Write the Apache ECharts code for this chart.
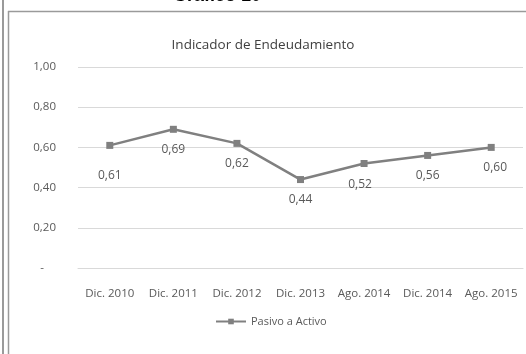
<!DOCTYPE html>
<html>
<head>
<meta charset="utf-8">
<script src="https://cdn.jsdelivr.net/npm/echarts@6/dist/echarts.min.js"></script>
<style>
  html, body { margin: 0; padding: 0; background: #fff; }
  #chart { width: 526px; height: 354px; }
</style>
</head>
<body>
<div id="chart"></div>
<script>
const categories = ['Dic. 2010', 'Dic. 2011', 'Dic. 2012', 'Dic. 2013', 'Ago. 2014', 'Dic. 2014', 'Ago. 2015']
const pasivoActivo = [0.61, 0.69, 0.62, 0.44, 0.52, 0.56, 0.60]
const yTicks = [0, 0.2, 0.4, 0.6, 0.8, 1.0]

// Excel nudges a few labels, keep those tweaks apart from the values
const labelOffsets = [[0, 10], [0, 0], [0, 0], [0, 0], [-4, 1], [0, 0], [4, 0]]

const fmt = v => v.toFixed(2).replace('.', ',')

const chart = echarts.init(document.getElementById('chart'))

const option = {
  animation: false,
  textStyle: { fontFamily: 'Open Sans' },
  title: {
    text: 'Indicador de Endeudamiento',
    left: 'center',
    top: 33,
    textStyle: { fontSize: 13.5, fontWeight: 'normal', color: '#404040', fontFamily: 'Open Sans' }
  },
  graphic: [
    { type: 'text', x: 173, y: -13, style: { text: 'Gráfico 10', font: 'bold 18px "Liberation Sans"', fill: '#000' } },
    { type: 'line', shape: { x1: 3, y1: 0, x2: 3, y2: 354 }, style: { stroke: '#9a9a9a', lineWidth: 2 } },
    { type: 'line', shape: { x1: 8.5, y1: 11, x2: 8.5, y2: 354 }, style: { stroke: '#9a9a9a', lineWidth: 1.5 } },
    { type: 'line', shape: { x1: 8, y1: 11.5, x2: 526, y2: 11.5 }, style: { stroke: '#9a9a9a', lineWidth: 1.5 } }
  ],
  grid: { left: 78, right: 3, top: 67, bottom: 86 },
  legend: {
    bottom: 22,
    left: 210,
    itemWidth: 30,
    itemHeight: 7,
    itemGap: 2,
    textStyle: { fontSize: 11, color: '#595959' },
    data: ['Pasivo a Activo']
  },
  xAxis: {
    type: 'category',
    data: categories,
    axisLine: { lineStyle: { color: '#d9d9d9' } },
    axisTick: { show: false },
    axisLabel: { color: '#595959', fontSize: 11.5, interval: 0, margin: 20 }
  },
  yAxis: {
    type: 'value',
    min: yTicks[0],
    max: yTicks[yTicks.length - 1],
    interval: 0.2,
    axisLine: { show: false },
    axisTick: { show: false },
    splitLine: { lineStyle: { color: '#d9d9d9', width: 1 } },
    axisLabel: {
      color: '#595959',
      fontSize: 11.5,
      margin: 22,
      formatter: v => v === 0 ? '-    ' : fmt(v)
    }
  },
  series: [{
    name: 'Pasivo a Activo',
    type: 'line',
    symbol: 'rect',
    symbolSize: 7,
    lineStyle: { color: '#808080', width: 2.5 },
    itemStyle: { color: '#808080' },
    label: {
      show: true,
      position: 'bottom',
      distance: 11,
      color: '#595959',
      fontSize: 12,
      formatter: p => fmt(p.value)
    },
    data: pasivoActivo.map((v, i) => ({ value: v, label: { offset: labelOffsets[i] } }))
  }]
}

chart.setOption(option)
</script>
</body>
</html>
